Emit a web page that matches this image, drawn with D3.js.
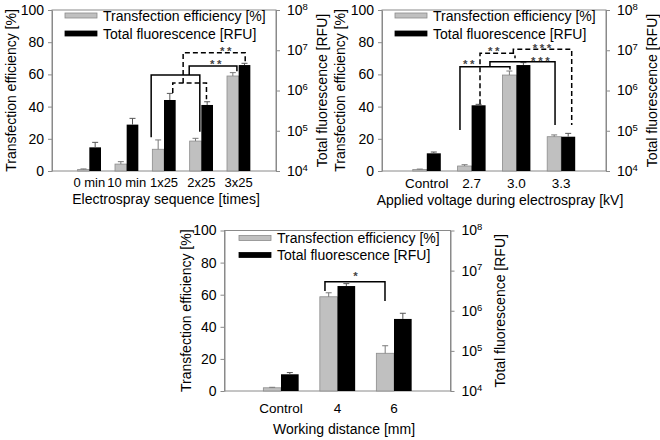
<!DOCTYPE html>
<html><head><meta charset="utf-8">
<script src="https://cdn.jsdelivr.net/npm/d3@7"></script>
<style>
body{margin:0;background:#fff}
svg text{font-family:"Liberation Sans",Arial,sans-serif;fill:#000}
</style>
</head><body><svg id="chart" width="660" height="440"></svg>
<script>
// ---------- data ----------
const seqCategories = ["0 min","10 min","1x25","2x25","3x25"];
const seqEfficiency = [1.0, 4.3, 13.5, 18.6, 59.0];
const seqEfficiencyErr = [0.3, 1.5, 5.8, 1.7, 2.1];
const seqFluorescence = [38700, 142000, 581000, 437000, 4290000];
const seqFluorescenceErr = [12800, 61000, 266000, 88000, 450000];

const voltCategories = ["Control","2.7","3.0","3.3"];
const voltEfficiency = [0.9, 3.1, 59.6, 21.3];
const voltEfficiencyErr = [0.3, 0.8, 2.5, 1.1];
const voltFluorescence = [27500, 429000, 4290000, 71100];
const voltFluorescenceErr = [2100, 24000, 630000, 15000];

const distCategories = ["Control","4","6"];
const distEfficiency = [2.0, 58.7, 23.5];
const distEfficiencyErr = [0.3, 2.5, 4.7];
const distFluorescence = [26100, 4130000, 625000];
const distFluorescenceErr = [2700, 610000, 240000];

const efficiencyTicks = [0,20,40,60,80,100];
const fluorescenceTickExponents = [4,5,6,7,8];
const legendLabels = ["Transfection efficiency [%]","Total fluorescence [RFU]"];
const leftTitle = "Transfection efficiency [%]";
const rightTitle = "Total fluorescence [RFU]";
const xTitles = ["Electrospray sequence [times]","Applied voltage during electrospray [kV]","Working distance [mm]"];

// significance annotations: points are [category, offset in bar widths from group centre, % value]
const seqBrackets = [
  {dashed:false, pts:[["1x25",-1.1,21],["1x25",-1.1,59.6],["2x25",-0.13,59.6],["2x25",-0.13,24.4]]},
  {dashed:false, pts:[["2x25",-1.04,59.6],["2x25",-1.04,65.2],["3x25",-0.15,65.2],["3x25",-0.15,62]]},
  {dashed:true,  pts:[["1x25",0.75,48.4],["1x25",0.75,54.7],["2x25",0.44,54.7],["2x25",0.44,44.5]]},
  {dashed:true,  pts:[["2x25",-1.56,54.7],["2x25",-1.56,73.5],["3x25",0.56,73.5],["3x25",0.56,67.2]]}
];
const seqStars = [
  {label:"**", at:["3x25",-1.86,67.9]},
  {label:"**", at:["3x25",-1.0,76.2]}
];
const voltBrackets = [
  {dashed:false, pts:[["2.7",-0.83,25.5],["2.7",-0.83,64.8],["3.0",-0.46,64.8],["3.0",-0.46,63]]},
  {dashed:false, pts:[["3.0",-1.89,64.8],["3.0",-1.89,67.9],["3.3",-0.44,67.9],["3.3",-0.44,28.6]]},
  {dashed:true,  pts:[["2.7",0.6,41.5],["2.7",0.6,73.1],["3.0",-0.1,73.1],["3.0",-0.1,70]]},
  {dashed:true,  pts:[["3.0",-0.22,73.1],["3.0",-0.22,75.6],["3.3",0.75,75.6],["3.3",0.75,28.6]]}
];
const voltStars = [
  {label:"**", at:["2.7",-0.11,67.9]},
  {label:"**", at:["3.0",-1.53,76.2]},
  {label:"***", at:["3.3",-1.39,69.7]},
  {label:"***", at:["3.3",-1.28,77.8]}
];
const distBrackets = [
  {dashed:false, pts:[["4",-0.71,62.3],["4",-0.71,68],["6",-0.51,68],["6",-0.51,56]]}
];
const distStars = [
  {label:"*", at:["6",-2.11,73.1]}
];

// ---------- drawing ----------
const svg = d3.select("#chart");
const AXIS = "#8a8a8a";
const STAR_SIZE = 11.5;

function drawPanel(cfg){
  const g = svg.append("g");
  const x = d3.scaleBand().domain(cfg.categories).range([cfg.left,cfg.right]).paddingInner(0).paddingOuter(0.5);
  const x1 = d3.scaleBand().domain(["eff","flu"]).range([0,x.bandwidth()]).paddingInner(0).paddingOuter(0.6);
  const w = x1.bandwidth();
  const y = d3.scaleLinear().domain([0,100]).range([cfg.bottom,cfg.top]);
  const yr = d3.scaleLog().domain([1e4,1e8]).range([cfg.bottom,cfg.top]);
  const cx = c => x(c) + x.bandwidth()/2;

  // frame
  g.append("rect").attr("x",cfg.left).attr("y",cfg.top)
    .attr("width",cfg.right-cfg.left).attr("height",cfg.bottom-cfg.top)
    .attr("fill","none").attr("stroke",AXIS).attr("stroke-width",1);

  // left axis
  const ax = g.append("g").attr("transform",`translate(${cfg.left},0)`)
    .call(d3.axisLeft(y).tickValues(efficiencyTicks).tickSize(4).tickSizeOuter(0).tickPadding(4));
  ax.select(".domain").attr("stroke",AXIS);
  ax.selectAll(".tick line").attr("stroke",AXIS);
  ax.selectAll(".tick text").attr("font-size",14).attr("fill","#000").attr("font-family",null);

  // right axis
  const ar = g.append("g").attr("transform",`translate(${cfg.right},0)`)
    .call(d3.axisRight(yr).tickValues(fluorescenceTickExponents.map(e=>Math.pow(10,e))).tickSize(4).tickSizeOuter(0).tickPadding(7).tickFormat(""));
  ar.select(".domain").attr("stroke",AXIS);
  ar.selectAll(".tick line").attr("stroke",AXIS);
  ar.selectAll(".tick text").each(function(d){
    const t = d3.select(this).attr("font-size",14).attr("fill","#000").attr("font-family",null);
    t.append("tspan").text("10");
    t.append("tspan").attr("font-size",9.5).attr("dy","-0.55em").text(String(Math.round(Math.log10(d))));
  });

  // bottom axis labels
  const ab = g.append("g").attr("transform",`translate(0,${cfg.bottom})`)
    .call(d3.axisBottom(x).tickSize(0).tickPadding(cfg.catPad));
  ab.select(".domain").remove();
  ab.selectAll(".tick text").attr("font-size",cfg.catSize).attr("fill","#000").attr("font-family",null);

  // bars
  const rows = cfg.categories.map((c,i)=>({c, e:cfg.eff[i], ee:cfg.effErr[i], f:cfg.flu[i], fe:cfg.fluErr[i]}));
  g.selectAll(".effbar").data(rows).enter().append("rect")
    .attr("x",d=>x(d.c)+x1("eff")).attr("width",w)
    .attr("y",d=>y(d.e)).attr("height",d=>y(0)-y(d.e))
    .attr("fill","#c0c0c0").attr("stroke","#8c8c8c").attr("stroke-width",0.8);
  g.selectAll(".flubar").data(rows).enter().append("rect")
    .attr("x",d=>x(d.c)+x1("flu")).attr("width",w)
    .attr("y",d=>yr(d.f)).attr("height",d=>yr(1e4)-yr(d.f))
    .attr("fill","#000");

  // error bars (positive only, capped)
  rows.forEach(d=>{
    const ex = x(d.c)+x1("eff")+w/2, fx = x(d.c)+x1("flu")+w/2;
    const e1 = y(d.e), e2 = y(d.e+d.ee), f1 = yr(d.f), f2 = yr(d.f+d.fe);
    g.append("line").attr("x1",ex).attr("x2",ex).attr("y1",e1).attr("y2",e2).attr("stroke","#7a7a7a");
    g.append("line").attr("x1",ex-3).attr("x2",ex+3).attr("y1",e2).attr("y2",e2).attr("stroke","#7a7a7a");
    g.append("line").attr("x1",fx).attr("x2",fx).attr("y1",f1).attr("y2",f2).attr("stroke","#555");
    g.append("line").attr("x1",fx-3).attr("x2",fx+3).attr("y1",f2).attr("y2",f2).attr("stroke","#555");
  });

  // brackets
  const line = d3.line().x(p=>cx(p[0])+p[1]*w).y(p=>y(p[2]));
  cfg.brackets.forEach(b=>{
    g.append("path").attr("d",line(b.pts)).attr("fill","none")
      .attr("stroke","#000").attr("stroke-width",1.5)
      .attr("stroke-dasharray",b.dashed?"5,3":null);
  });
  cfg.stars.forEach(s=>{
    g.append("text").attr("x",cx(s.at[0])+s.at[1]*w).attr("y",y(s.at[2])+0.57*STAR_SIZE)
      .attr("text-anchor","middle").attr("font-size",STAR_SIZE).attr("font-weight","bold")
      .attr("letter-spacing",2.6)
      .style("fill","#444").text(s.label);
  });

  // legend
  const lg = cfg.legend;
  legendLabels.forEach((lab,i)=>{
    g.append("rect").attr("x",cfg.left+lg.dx).attr("y",cfg.top+lg.dy+i*lg.gap)
      .attr("width",32).attr("height",5)
      .attr("fill",i===0?"#c0c0c0":"#000").attr("stroke",i===0?"#8c8c8c":"#000").attr("stroke-width",0.8);
    g.append("text").attr("x",cfg.left+lg.dx+38).attr("y",cfg.top+lg.dy+i*lg.gap+7.5)
      .attr("font-size",14).text(lab);
  });

  // titles
  const midY = (cfg.top+cfg.bottom)/2;
  g.append("text").attr("transform",`translate(${cfg.leftTitleX},${midY}) rotate(-90)`)
    .attr("text-anchor","middle").attr("dy","0.35em").attr("font-size",14).text(leftTitle);
  g.append("text").attr("transform",`translate(${cfg.rightTitleX},${midY}) rotate(-90)`)
    .attr("text-anchor","middle").attr("dy","0.35em").attr("font-size",14).text(rightTitle);
  g.append("text").attr("x",cfg.xTitleX).attr("y",cfg.xTitleY)
    .attr("text-anchor","middle").attr("font-size",14).text(cfg.xTitle);
}

drawPanel({categories:seqCategories, eff:seqEfficiency, effErr:seqEfficiencyErr, flu:seqFluorescence, fluErr:seqFluorescenceErr,
  left:52, right:276, top:10, bottom:171, catPad:7, catSize:13, brackets:seqBrackets, stars:seqStars,
  legend:{dx:13,dy:3,gap:18}, leftTitleX:11, rightTitleX:322, xTitle:xTitles[0], xTitleX:166, xTitleY:204});
drawPanel({categories:voltCategories, eff:voltEfficiency, effErr:voltEfficiencyErr, flu:voltFluorescence, fluErr:voltFluorescenceErr,
  left:382, right:606, top:10, bottom:171, catPad:7, catSize:13.5, brackets:voltBrackets, stars:voltStars,
  legend:{dx:13,dy:3,gap:18}, leftTitleX:340, rightTitleX:652, xTitle:xTitles[1], xTitleX:500, xTitleY:205});
drawPanel({categories:distCategories, eff:distEfficiency, effErr:distEfficiencyErr, flu:distFluorescence, fluErr:distFluorescenceErr,
  left:224.5, right:450.5, top:230.5, bottom:391, catPad:12, catSize:13.5, brackets:distBrackets, stars:distStars,
  legend:{dx:14.5,dy:5,gap:17}, leftTitleX:186, rightTitleX:500, xTitle:xTitles[2], xTitleX:344, xTitleY:434});
</script>
</body></html>
